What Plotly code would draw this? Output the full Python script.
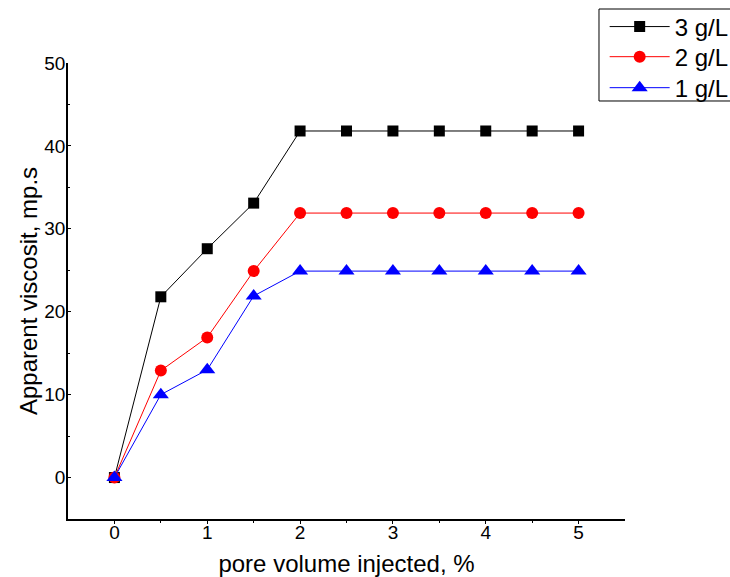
import plotly.graph_objects as go

pv = [0, 0.5, 1, 1.5, 2, 2.5, 3, 3.5, 4, 4.5, 5]
visc_3 = [0, 21.8, 27.6, 33.1, 41.8, 41.8, 41.8, 41.8, 41.8, 41.8, 41.8]
visc_2 = [0, 12.9, 16.9, 24.9, 31.9, 31.9, 31.9, 31.9, 31.9, 31.9, 31.9]
visc_1 = [0, 10.0, 13.0, 21.9, 24.9, 24.9, 24.9, 24.9, 24.9, 24.9, 24.9]
names = ["3 g/L", "2 g/L", "1 g/L"]
colors = ["#000000", "#ff0000", "#0000ff"]
symbols = ["square", "circle", "triangle-up"]
sizes = [11, 12, 14]
legend_ids = ["legend", "legend2", "legend3"]
legend_rows = [1.079, 1.013, 0.945]

font = "Arial, Liberation Sans, sans-serif"
fig = go.Figure()
for i, (ys, nm) in enumerate(zip([visc_3, visc_2, visc_1], names)):
    fig.add_trace(go.Scatter(
        x=pv, y=ys, name=nm, mode="lines+markers", legend=legend_ids[i],
        line=dict(color=colors[i], width=1),
        marker=dict(symbol=symbols[i], size=sizes[i], color=colors[i]),
    ))

legend_style = dict(x=0.9635, xanchor="left", yanchor="middle",
                    borderwidth=0, bgcolor="rgba(0,0,0,0)",
                    font=dict(size=24, family=font), itemwidth=60)

fig.update_layout(
    width=730, height=577,
    margin=dict(l=68, r=105, t=63, b=58, autoexpand=False),
    paper_bgcolor="white", plot_bgcolor="white",
    font=dict(family=font, color="black", size=19),
    showlegend=True,
    legend=dict(y=legend_rows[0], **legend_style),
    legend2=dict(y=legend_rows[1], **legend_style),
    legend3=dict(y=legend_rows[2], **legend_style),
    shapes=[dict(type="rect", xref="paper", yref="paper",
                 x0=0.9533, x1=1.2, y0=0.9167, y1=1.1184,
                 line=dict(color="black", width=1), fillcolor="white", layer="below")],
    xaxis=dict(range=[-0.5, 5.5], tickvals=[0, 1, 2, 3, 4, 5],
               showgrid=False, zeroline=False, showline=True, linecolor="black",
               linewidth=1.5, ticks="outside", ticklen=3, tickcolor="black",
               ticklabelstandoff=-8,
               minor=dict(tickvals=[0.5, 1.5, 2.5, 3.5, 4.5], ticks="outside", ticklen=2, tickcolor="black"),
               tickfont=dict(size=19),
               title=dict(text="pore volume injected, %", font=dict(size=24), standoff=18)),
    yaxis=dict(range=[-5, 50], tickvals=[0, 10, 20, 30, 40, 50],
               showgrid=False, zeroline=False, showline=True, linecolor="black",
               linewidth=1.5, ticks="inside", ticklen=3, tickcolor="black",
               ticklabelstandoff=-3,
               minor=dict(tickvals=[5, 15, 25, 35, 45], ticks="inside", ticklen=2, tickcolor="black"),
               tickfont=dict(size=19),
               title=dict(text="Apparent viscosit, mp.s", font=dict(size=24), standoff=0)),
)
fig.write_html("out.html")
